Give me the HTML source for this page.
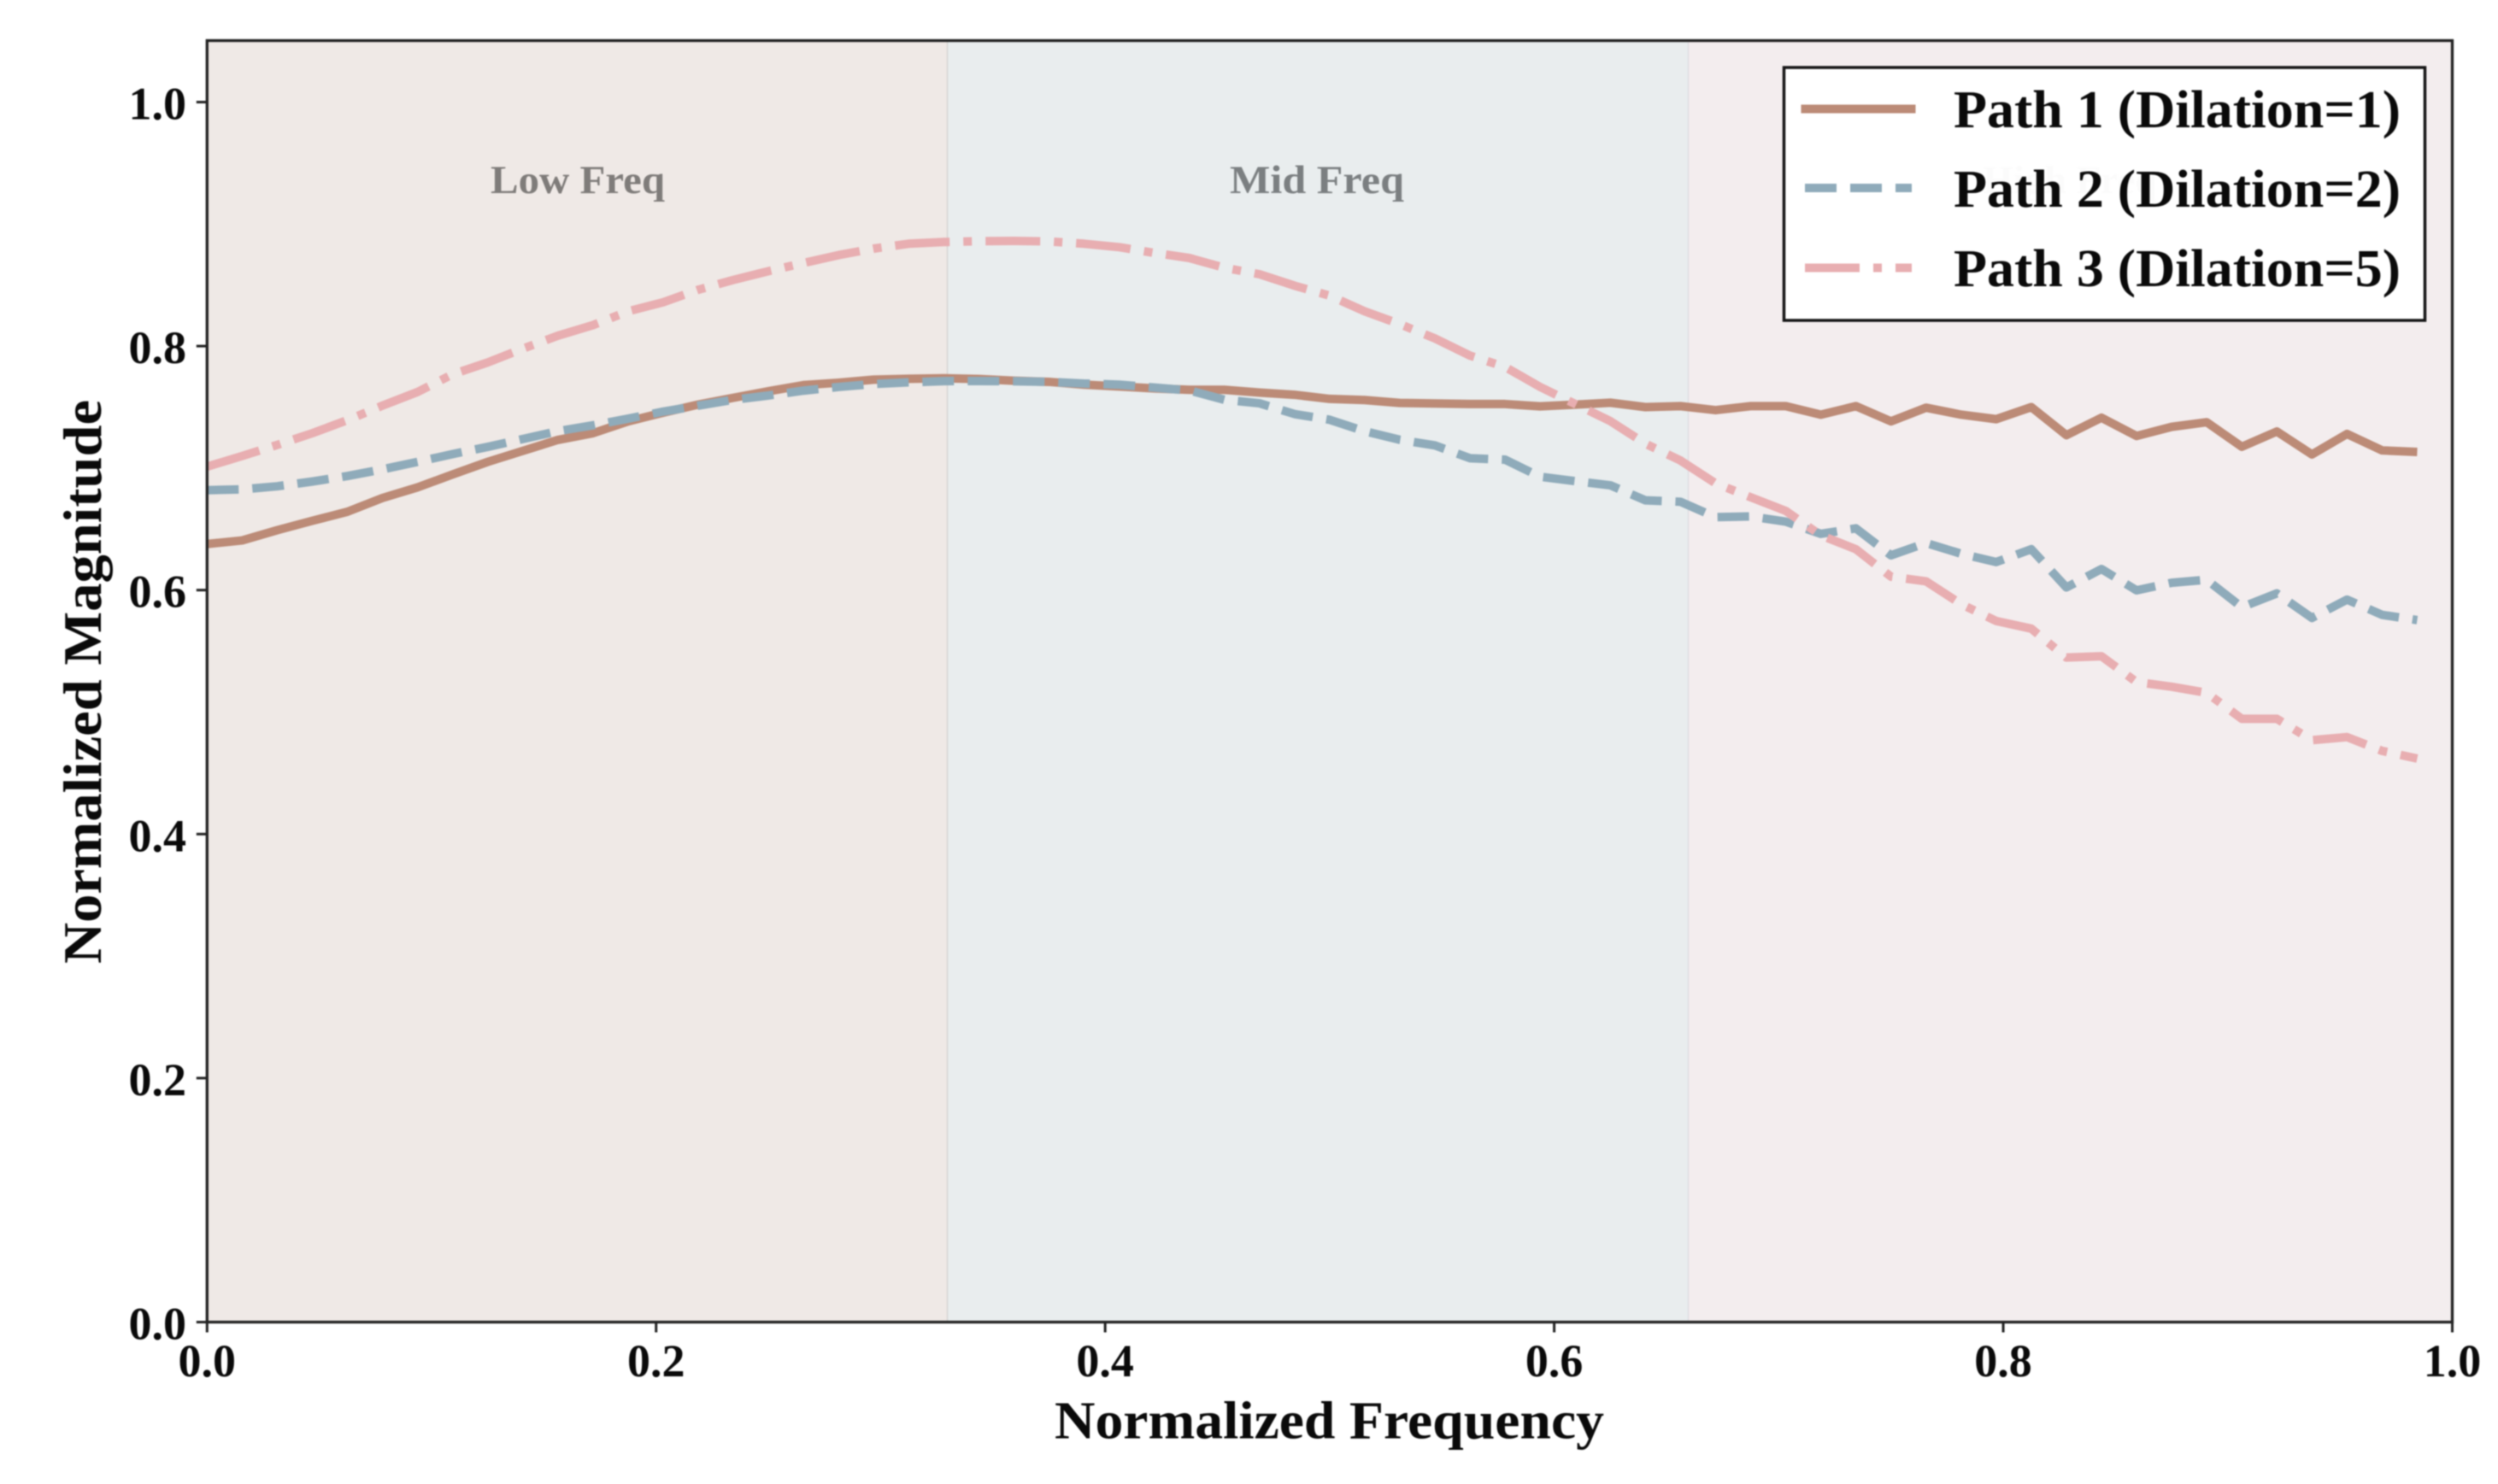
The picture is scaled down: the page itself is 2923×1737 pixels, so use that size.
<!DOCTYPE html>
<html lang="en">
<head>
<meta charset="utf-8">
<title>Normalized Magnitude vs Normalized Frequency</title>
<style>
html,body{margin:0;padding:0;background:#fff;width:2923px;height:1737px;overflow:hidden}
svg{display:block;filter:blur(0.9px)}
text{font-family:"Liberation Serif",serif;font-weight:bold;fill:#0a0a0a}
</style>
</head>
<body>
<svg id="chart" xmlns="http://www.w3.org/2000/svg" width="2923" height="1737" viewBox="0 0 2923 1737">
  <rect x="0" y="0" width="2923" height="1737" fill="#ffffff"/>
  <g id="bands"></g>
  <g id="band-labels"></g>
  <g id="series"></g>
  <g id="axes"></g>
  <text x="1555.5" y="1683.5" text-anchor="middle" font-size="62" textLength="643" lengthAdjust="spacingAndGlyphs">Normalized Frequency</text>
  <text transform="translate(118 798) rotate(-90)" x="0" y="0" text-anchor="middle" font-size="63" textLength="660" lengthAdjust="spacingAndGlyphs">Normalized Magnitude</text>
  <g>
    <rect x="2087.5" y="79" width="750" height="296" fill="#ffffff" fill-opacity="0.97" stroke="#141414" stroke-width="3.5"/>
    <line x1="2107.5" y1="127.5" x2="2241.5" y2="127.5" stroke="#bc8b77" stroke-width="10"/>
    <line x1="2112" y1="220" x2="2237" y2="220" stroke="#8fabba" stroke-width="10" stroke-dasharray="37 16"/>
    <line x1="2112" y1="313.5" x2="2237" y2="313.5" stroke="#e8aeb1" stroke-width="10" stroke-dasharray="64 16 10 16"/>
    <text x="2286" y="149" font-size="62" textLength="523" lengthAdjust="spacingAndGlyphs">Path 1 (Dilation=1)</text>
    <text x="2286" y="242" font-size="62" textLength="523" lengthAdjust="spacingAndGlyphs">Path 2 (Dilation=2)</text>
    <text x="2286" y="335" font-size="62" textLength="523" lengthAdjust="spacingAndGlyphs">Path 3 (Dilation=5)</text>
  </g>
</svg>
<script>
const binCount = 64;
const xTickValues = [0, 0.2, 0.4, 0.6, 0.8, 1.0];
const xTickLabels = ["0.0", "0.2", "0.4", "0.6", "0.8", "1.0"];
const yTickValues = [0, 0.2, 0.4, 0.6, 0.8, 1.0];
const yTickLabels = ["0.0", "0.2", "0.4", "0.6", "0.8", "1.0"];
const bandNames = ["Low Freq", "Mid Freq", "High Freq"];
const bandStarts = [0, 0.33, 0.66];
const bandEnds = [0.33, 0.66, 1.0];
const path1Values = [0.6378,0.6407,0.6491,0.6568,0.6642,0.6755,0.6842,0.6948,0.7051,0.7141,0.7231,0.7286,0.7383,0.7454,0.7521,0.7576,0.7630,0.7680,0.7700,0.7725,0.7732,0.7736,0.7730,0.7716,0.7707,0.7684,0.7669,0.7653,0.7642,0.7642,0.7619,0.7601,0.7567,0.7558,0.7534,0.7530,0.7525,0.7525,0.7506,0.7520,0.7536,0.7500,0.7508,0.7475,0.7508,0.7508,0.7438,0.7508,0.7383,0.7495,0.7438,0.7401,0.7500,0.7270,0.7413,0.7263,0.7338,0.7376,0.7175,0.7300,0.7112,0.7280,0.7145,0.7132];
const path2Values = [0.6819,0.6826,0.6851,0.6890,0.6935,0.6990,0.7051,0.7115,0.7174,0.7238,0.7303,0.7351,0.7405,0.7463,0.7512,0.7560,0.7595,0.7635,0.7665,0.7689,0.7703,0.7713,0.7714,0.7712,0.7707,0.7693,0.7684,0.7660,0.7637,0.7560,0.7531,0.7443,0.7396,0.7302,0.7232,0.7186,0.7081,0.7069,0.6929,0.6893,0.6859,0.6736,0.6724,0.6598,0.6604,0.6561,0.6461,0.6506,0.6285,0.6386,0.6298,0.6230,0.6335,0.6022,0.6173,0.5998,0.6060,0.6085,0.5860,0.5973,0.5772,0.5922,0.5797,0.5754];
const path3Values = [0.7012,0.7099,0.7190,0.7286,0.7393,0.7512,0.7624,0.7769,0.7866,0.7979,0.8085,0.8172,0.8285,0.8359,0.8462,0.8542,0.8614,0.8681,0.8746,0.8799,0.8839,0.8853,0.8860,0.8862,0.8858,0.8839,0.8811,0.8764,0.8722,0.8642,0.8589,0.8495,0.8413,0.8285,0.8180,0.8063,0.7922,0.7829,0.7665,0.7525,0.7385,0.7200,0.7062,0.6875,0.6761,0.6649,0.6449,0.6335,0.6110,0.6072,0.5885,0.5747,0.5684,0.5447,0.5458,0.5246,0.5208,0.5158,0.4945,0.4945,0.4770,0.4795,0.4682,0.4619];

const NS = "http://www.w3.org/2000/svg";
const plotLeft = 242.3, plotRight = 2869.5, plotBottom = 1547.5, plotTop = 47.5, yOne = 119.5;
function xScale(v) { return plotLeft + (plotRight - plotLeft) * v; }
function yScale(v) { return plotBottom - (plotBottom - yOne) * v; }
function make(tag, attrs, parent) {
  const el = document.createElementNS(NS, tag);
  for (const k in attrs) el.setAttribute(k, attrs[k]);
  parent.appendChild(el);
  return el;
}

const bandsG = document.getElementById("bands");
const bandLabelsG = document.getElementById("band-labels");
const seriesG = document.getElementById("series");
const axesG = document.getElementById("axes");
const bandFills = ["#efe9e6", "#e9edee", "#f3edee"];
const bandEdges = ["#d6d5d3", "#dfdde2", "none"];
const bandLabelColors = ["#7f7c7a", "#7b7f81", "#7f7c7c"];
const bandLabelX = [676, 1541, 2422];

bandNames.forEach(function (name, i) {
  const x0 = xScale(bandStarts[i]), x1 = xScale(bandEnds[i]);
  const r = make("rect", { x: x0, y: plotTop, width: x1 - x0, height: plotBottom - plotTop, fill: bandFills[i] }, bandsG);
  
  
  if (bandEdges[i] !== "none") {
    const e = make("line", { x1: x1, x2: x1, y1: plotTop, y2: plotBottom, stroke: bandEdges[i], "stroke-width": 3 }, bandsG);
    
    
  }
  const t = make("text", { x: bandLabelX[i], y: 226, "text-anchor": "middle", "font-size": 47, textLength: 204, lengthAdjust: "spacingAndGlyphs" }, bandLabelsG);
  
  
  t.style.fill = bandLabelColors[i];
  t.textContent = name;
});

function drawSeries(values, color, dash, name) {
  const pts = values.map(function (v, i) { return xScale(i / binCount).toFixed(2) + "," + yScale(v).toFixed(2); }).join(" ");
  const line = make("polyline", { points: pts, fill: "none", stroke: color, "stroke-width": 10, "stroke-linejoin": "round", "stroke-dasharray": dash }, seriesG);
  
  
}
drawSeries(path1Values, "#bc8b77", "none", "series-path-1");
drawSeries(path2Values, "#8fabba", "37 16", "series-path-2");
drawSeries(path3Values, "#e8aeb1", "64 16 10 16", "series-path-3");

const frame = make("rect", { x: plotLeft, y: plotTop, width: plotRight - plotLeft, height: plotBottom - plotTop, fill: "none", stroke: "#222222", "stroke-width": 3.3 }, axesG);



xTickValues.forEach(function (v, i) {
  const x = xScale(v);
  const tick = make("line", { x1: x, x2: x, y1: plotBottom, y2: plotBottom + 12, stroke: "#222222", "stroke-width": 3 }, axesG);
  
  
  const t = make("text", { x: x, y: 1611, "text-anchor": "middle", "font-size": 54 }, axesG);
  
  
  t.textContent = xTickLabels[i];
});
yTickValues.forEach(function (v, i) {
  const y = yScale(v);
  const tick = make("line", { x1: plotLeft - 12.5, x2: plotLeft, y1: y, y2: y, stroke: "#222222", "stroke-width": 3 }, axesG);
  
  
  const t = make("text", { x: 218, y: y + 20, "text-anchor": "end", "font-size": 54 }, axesG);
  
  
  t.textContent = yTickLabels[i];
});
</script>
</body>
</html>
